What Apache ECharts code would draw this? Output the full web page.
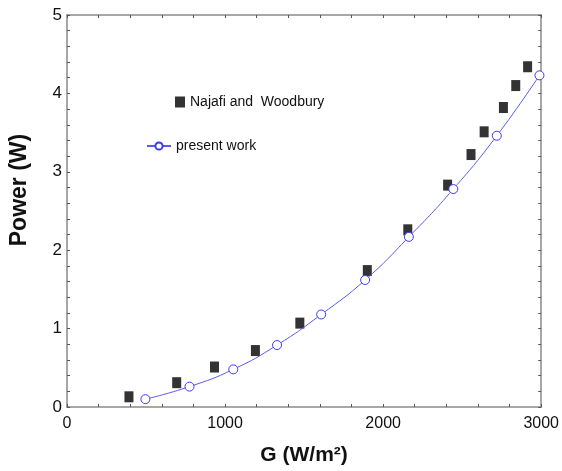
<!DOCTYPE html>
<html><head><meta charset="utf-8">
<script src="https://cdn.jsdelivr.net/npm/echarts@6/dist/echarts.min.js"></script>
<style>html,body{margin:0;padding:0;background:#fff}#c{width:562px;height:471px}</style>
</head><body><div id="c"></div>
<script>
const najafiG = [392, 694, 933, 1192, 1473, 1900, 2156, 2408, 2556, 2639, 2761, 2839, 2914];
const najafiP = [0.13, 0.31, 0.51, 0.72, 1.07, 1.74, 2.26, 2.83, 3.22, 3.51, 3.82, 4.10, 4.34];
const presentG = [496, 775, 1052, 1329, 1608, 1886, 2163, 2444, 2719, 2989];
const presentP = [0.10, 0.26, 0.48, 0.79, 1.18, 1.62, 2.17, 2.78, 3.46, 4.23];
const seriesNames = ['Najafi and  Woodbury', 'present work'];
const xTitle = 'G (W/m\u00B2)';
const yTitle = 'Power (W)';

const FONT = '"Liberation Sans", Arial, sans-serif';
const chart = echarts.init(document.getElementById('c'), null, {renderer: 'canvas'});
const axisCommon = () => ({
  axisLine: {show: true, onZero: false, lineStyle: {color: '#8a8a8a', width: 1.5}},
  axisTick: {show: true, inside: true, length: 3, lineStyle: {color: '#555'}},
  minorTick: {show: true, splitNumber: 5, length: 3, lineStyle: {color: '#555'}},
  splitLine: {show: false}
});
chart.setOption({
  animation: false,
  grid: {left: 65, top: 15, right: 17, bottom: 64},
  legend: [
    {data: [seriesNames[0]], left: 170, top: 90, orient: 'vertical', itemWidth: 10, itemHeight: 11, itemGap: 4,
     textStyle: {fontFamily: FONT, fontSize: 14, color: '#111'}},
    {data: [seriesNames[1]], left: 141, top: 134, orient: 'vertical', itemWidth: 24, itemHeight: 9, itemGap: 2,
     textStyle: {fontFamily: FONT, fontSize: 14, color: '#111'}}
  ],
  xAxis: [
    Object.assign({type: 'value', min: 0, max: 3000, interval: 1000, position: 'bottom',
      name: xTitle, nameLocation: 'middle', nameGap: 38,
      nameTextStyle: {fontFamily: FONT, fontSize: 21, fontWeight: 'bold', color: '#111'},
      axisLabel: {fontFamily: FONT, fontSize: 16, color: '#111', margin: 9, formatter: v => String(v)}}, axisCommon()),
    Object.assign({type: 'value', min: 0, max: 3000, interval: 1000, position: 'top',
      axisLabel: {show: false}}, axisCommon())
  ],
  yAxis: [
    Object.assign({type: 'value', min: 0, max: 5, interval: 1, position: 'left',
      name: yTitle, nameLocation: 'middle', nameGap: 36,
      nameTextStyle: {fontFamily: FONT, fontSize: 23, fontWeight: 'bold', color: '#111', padding: [0, 0, 0, 42]},
      axisLabel: {fontFamily: FONT, fontSize: 17, color: '#111', margin: 5, formatter: v => String(v)}}, axisCommon()),
    Object.assign({type: 'value', min: 0, max: 5, interval: 1, position: 'right',
      axisLabel: {show: false}}, axisCommon())
  ],
  series: [
    {name: seriesNames[0], type: 'scatter', symbol: 'rect', symbolSize: [9, 11],
     itemStyle: {color: '#000'},
     data: najafiG.map((g, i) => [g, najafiP[i]])},
    {name: seriesNames[1], type: 'line', smooth: true, symbol: 'circle', symbolSize: 9,
     showAllSymbol: true,
     lineStyle: {color: '#5a5aef', width: 1},
     itemStyle: {color: '#fff', borderColor: '#3a3aff', borderWidth: 1},
     data: presentG.map((g, i) => [g, presentP[i]])}
  ]
});
</script></body></html>
